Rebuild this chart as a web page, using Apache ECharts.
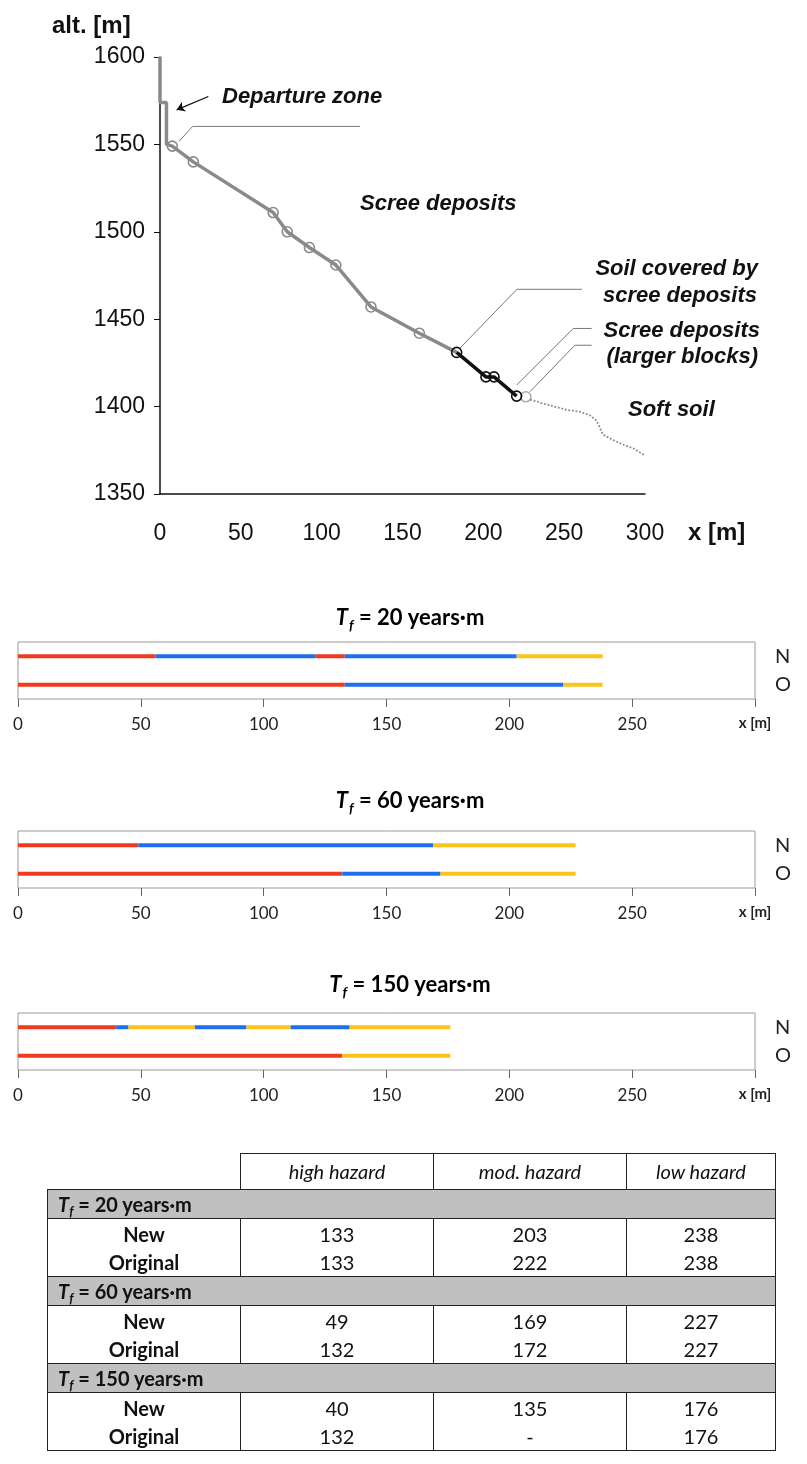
<!DOCTYPE html>
<html><head><meta charset="utf-8">
<script src="https://cdn.jsdelivr.net/npm/echarts@6/dist/echarts.min.js"></script>
<style>
html,body{margin:0;padding:0;background:#fff;}
#c{position:absolute;left:0;top:0;width:807px;height:1464px;}
#tbl{position:absolute;left:47px;top:1153px;border-collapse:collapse;table-layout:fixed;font-family:Lato,"Open Sans",sans-serif;font-size:20px;color:#111;}
#tbl td{border:1px solid #222;padding:0;text-align:center;line-height:28px;overflow:hidden;}
#tbl td.hd{font-style:italic;height:35px;line-height:35px;}
#tbl td.empty{border-top:none;border-left:none;}
#tbl tr.g td{background:#c0c0c0;text-align:left;padding-left:10px;font-weight:bold;height:28px;line-height:28px;}
#tbl td.lab{font-weight:bold;}
#tbl tr.b td{height:57px;}
#tbl sub{font-size:13px;line-height:0;vertical-align:-4px;}
</style></head>
<body>
<div id="c"></div>
<table id="tbl"><colgroup><col style="width:193px"><col style="width:193px"><col style="width:193px"><col style="width:149px"></colgroup><tbody id="tb"></tbody></table>
<script>
// ---------- Data: terrain profile ----------
const profileGrey = [[0,1600],[0,1574],[4,1574],[4,1550],[7.6,1549],[20.6,1540],[70,1511],[78.7,1500],[92.4,1491],[108.8,1481],[130.5,1457],[160.4,1442],[183.5,1431]];
const profileGreyMarked = [false,false,false,false,true,true,true,true,true,true,true,true,false];
const profileBlack = [[183.5,1431],[201.6,1417],[206.6,1417],[220.6,1406]];
const screeBlocks = [[226.3,1405.6]];
const softSoil = [[229,1404],[236,1402],[244,1400],[252,1398],[260,1397],[266,1395],[270,1392],[272,1388],[274,1384],[280,1381],[287,1378],[293,1376],[300,1372]];
// ---------- Data: hazard zoning [start, end, hazard(0 high,1 mod,2 low)] ----------
const tfTitles = ['20','60','150'];
const zonesNew = [
  [[0,56,0],[56,121,1],[121,133,0],[133,203,1],[203,238,2]],
  [[0,49,0],[49,169,1],[169,227,2]],
  [[0,40,0],[40,45,1],[45,72,2],[72,93,1],[93,111,2],[111,135,1],[135,176,2]]
];
const zonesOriginal = [
  [[0,133,0],[133,222,1],[222,238,2]],
  [[0,132,0],[132,172,1],[172,227,2]],
  [[0,132,0],[132,176,2]]
];
const hazardColors = ['#f03b1f','#1e6ff0','#fcc418'];
// ---------- Data: table ----------
const tableHeader = ['high hazard','mod. hazard','low hazard'];
const tableNew = [['133','203','238'],['49','169','227'],['40','135','176']];
const tableOriginal = [['133','222','238'],['132','172','227'],['132','-','176']];

// ---------- Build table ----------
(function(){
  const tb = document.getElementById('tb');
  let h = '<tr><td class="empty"></td>' + tableHeader.map(t=>'<td class="hd">'+t+'</td>').join('') + '</tr>';
  tfTitles.forEach((t,i)=>{
    h += '<tr class="g"><td colspan="4"><i>T<sub>f</sub></i> = '+t+' years·m</td></tr>';
    h += '<tr class="b"><td class="lab">New<br>Original</td>' + [0,1,2].map(j=>'<td>'+tableNew[i][j]+'<br>'+tableOriginal[i][j]+'</td>').join('') + '</tr>';
  });
  tb.innerHTML = h;
})();

const chart = echarts.init(document.getElementById('c'), null, {renderer:'canvas'});
const AR = 'Liberation Sans, Arial, sans-serif';
const CAL = 'Lato, "Open Sans", sans-serif';

const gridTops = [642, 831, 1013];
const grids = [{left:160, right:162, top:57, height:437}];
gridTops.forEach(t=>grids.push({left:18, right:52, top:t, height:57, show:true, borderColor:'#9a9a9a', borderWidth:1}));

const xAxes = [{gridIndex:0, type:'value', min:0, max:300, interval:50,
  axisLine:{lineStyle:{color:'#111', width:1.5}}, axisTick:{show:false},
  splitLine:{show:false}, axisLabel:{fontFamily:AR, fontSize:23, color:'#111', margin:28, formatter:v=>String(v)}}];
const yAxes = [{gridIndex:0, type:'value', min:1350, max:1600, interval:50,
  axisLine:{show:true, lineStyle:{color:'#111', width:1.5}}, axisTick:{show:true, length:6, lineStyle:{color:'#111'}},
  splitLine:{show:false}, axisLabel:{fontFamily:AR, fontSize:23, color:'#111', margin:15, formatter:v=>String(v)}}];
for (let i=1;i<=3;i++){
  xAxes.push({gridIndex:i, type:'value', min:0, max:300, interval:50,
    axisLine:{lineStyle:{color:'#8a8a8a'}}, axisTick:{show:true, length:8, lineStyle:{color:'#666'}},
    splitLine:{show:false},
    axisLabel:{fontFamily:CAL, fontSize:17, color:'#222', margin:17,
      formatter:v=> v===300 ? '{b|x [m]}' : String(v),
      rich:{b:{fontFamily:CAL, fontWeight:'bold', fontSize:15, color:'#222'}}}});
  yAxes.push({gridIndex:i, type:'category', data:['O','N'], position:'right',
    axisLine:{show:false}, axisTick:{show:false}, splitLine:{show:false},
    axisLabel:{fontFamily:CAL, fontSize:20, color:'#222', margin:20}});
}

const series = [];
series.push({type:'line', xAxisIndex:0, yAxisIndex:0, z:3,
  data: profileGrey.map((p,i)=>({value:p, symbol: profileGreyMarked[i]?'circle':'none'})),
  symbolSize:10, lineStyle:{color:'#8a8a8a', width:3.5},
  itemStyle:{color:'rgba(255,255,255,0)', borderColor:'#8a8a8a', borderWidth:1.6}});
series.push({type:'line', xAxisIndex:0, yAxisIndex:0, z:4, data:profileBlack, symbol:'circle', symbolSize:10,
  lineStyle:{color:'#111', width:3.5}, itemStyle:{color:'rgba(255,255,255,0)', borderColor:'#111', borderWidth:1.6}});
series.push({type:'scatter', xAxisIndex:0, yAxisIndex:0, data:screeBlocks, symbol:'circle', symbolSize:10,
  itemStyle:{color:'rgba(255,255,255,0)', borderColor:'#999', borderWidth:1.6}});
series.push({type:'line', xAxisIndex:0, yAxisIndex:0, data:softSoil, symbol:'none',
  lineStyle:{color:'#8a8a8a', width:1.8, type:'dotted'}});
const leaders = [
  [[11.9,1551.9],[20.2,1560.3],[123.7,1560.3]],
  [[185.5,1433.4],[220.8,1467.1],[261,1467.1]],
  [[220.6,1412.3],[255.6,1444.7],[267,1444.7]],
  [[228.8,1408.5],[256.6,1435.1],[267,1435.1]]
];
series.push({type:'lines', coordinateSystem:'cartesian2d', xAxisIndex:0, yAxisIndex:0, polyline:true,
  data: leaders.map(c=>({coords:c})), lineStyle:{color:'#777', width:1, opacity:1}, symbol:'none'});
series.push({type:'lines', coordinateSystem:'cartesian2d', xAxisIndex:0, yAxisIndex:0,
  data:[{coords:[[29.9,1577.4],[10.3,1569.8]]}], lineStyle:{color:'#111', width:1.3, opacity:1},
  symbol:['none','arrow'], symbolSize:8});
function renderSeg(params, api){
  const s = api.coord([api.value(0), api.value(2)]);
  const e = api.coord([api.value(1), api.value(2)]);
  return {type:'rect', shape:{x:s[0], y:s[1]-2, width:e[0]-s[0], height:4},
    style:{fill: hazardColors[api.value(3)]}};
}
for (let i=0;i<3;i++){
  const d = [];
  zonesNew[i].forEach(z=>d.push([z[0],z[1],1,z[2]]));
  zonesOriginal[i].forEach(z=>d.push([z[0],z[1],0,z[2]]));
  series.push({type:'custom', xAxisIndex:i+1, yAxisIndex:i+1, renderItem:renderSeg,
    encode:{x:[0,1], y:2}, data:d});
}

const titleRich = {
  t:{fontFamily:CAL, fontStyle:'italic', fontWeight:'bold', fontSize:22, color:'#111'},
  s:{fontFamily:CAL, fontStyle:'italic', fontWeight:'bold', fontSize:14, color:'#111', padding:[14,0,0,1]},
  n:{fontFamily:CAL, fontWeight:'bold', fontSize:22, color:'#111'}
};
const titleY = [618, 801, 985];
const LBL = 'italic bold 22px '+AR;
const graphics = [
  {type:'text', left:52, top:14, style:{text:'alt. [m]', font:'bold 24px '+AR, fill:'#111'}},
  {type:'text', left:688, top:521, style:{text:'x [m]', font:'bold 24px '+AR, fill:'#111'}},
  {type:'text', left:222, top:86, style:{text:'Departure zone', font:LBL, fill:'#111'}},
  {type:'text', left:360, top:193, style:{text:'Scree deposits', font:LBL, fill:'#111'}},
  {type:'text', right:49, top:258, style:{text:'Soil covered by', font:LBL, fill:'#111'}},
  {type:'text', right:50, top:285, style:{text:'scree deposits', font:LBL, fill:'#111'}},
  {type:'text', right:47, top:320, style:{text:'Scree deposits', font:LBL, fill:'#111'}},
  {type:'text', right:49, top:346, style:{text:'(larger blocks)', font:LBL, fill:'#111'}},
  {type:'text', left:628, top:399, style:{text:'Soft soil', font:LBL, fill:'#111'}}
];
tfTitles.forEach((t,i)=>{
  graphics.push({type:'text', x:410, y:titleY[i], style:{text:'{t|T}{s|f}{n| = '+t+' years·m}', rich:titleRich, align:'center', verticalAlign:'middle'}});
});

chart.setOption({
  animation:false,
  grid:grids, xAxis:xAxes, yAxis:yAxes, series:series, graphic:graphics
});
</script>
</body></html>
